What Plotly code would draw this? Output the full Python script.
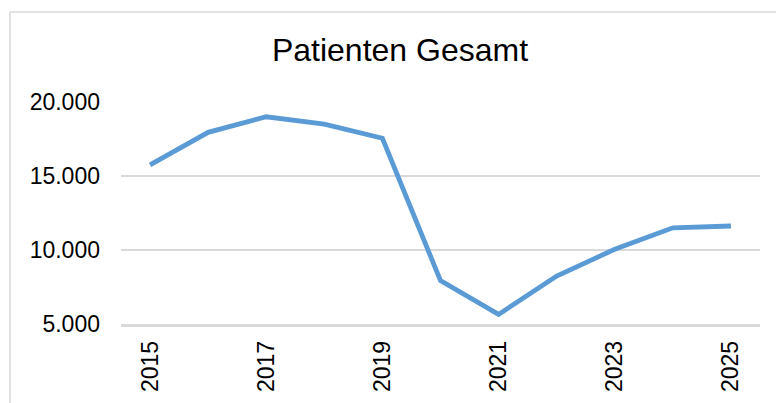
import plotly.graph_objects as go

# Patient totals per year
years = ["2015", "2016", "2017", "2018", "2019", "2020",
         "2021", "2022", "2023", "2024", "2025"]
patients = [15750, 17950, 19000, 18500, 17550, 7930,
            5650, 8240, 10050, 11500, 11620]

y_ticks = [5000, 10000, 15000, 20000]
x_ticks = ["2015", "2017", "2019", "2021", "2023", "2025"]

W, H = 776, 403
ML, MR, MT, MB = 121, 16, 102, 79
pw, ph = W - ML - MR, H - MT - MB


def px_x(px):
    return (px - ML) / pw


def px_y(py):
    return (H - MB - py) / ph


fig = go.Figure()
fig.add_trace(go.Scatter(
    x=years, y=patients, mode="lines",
    line=dict(color="#5B9BD5", width=4.8),
    cliponaxis=False, hoverinfo="x+y",
))

font = "Liberation Sans, Arial, sans-serif"

fig.update_layout(
    width=W, height=H,
    margin=dict(l=ML, r=MR, t=MT, b=MB, autoexpand=False),
    paper_bgcolor="white", plot_bgcolor="white",
    separators=",.",
    showlegend=False,
    font=dict(family=font, color="#000000", size=23),
    title=dict(text="Patienten Gesamt", x=(273 + 527) / 2 / W,
               xanchor="center", y=1 - 50 / H, yanchor="middle",
               font=dict(family=font, size=32, color="#000000")),
    xaxis=dict(type="category", range=[-0.5, len(years) - 0.5],
               tickmode="array", tickvals=x_ticks,
               ticktext=x_ticks, tickangle=-90, showgrid=False,
               showline=True, linecolor="#d9d9d9", linewidth=2.5,
               ticks="", ticklabelstandoff=5, automargin=False,
               tickfont=dict(size=23)),
    yaxis=dict(range=[5000, 20000], tickmode="array", tickvals=y_ticks,
               tickformat=",d", showgrid=True, gridcolor="#d9d9d9",
               gridwidth=1.8, zeroline=False, showline=False, ticks="",
               ticklabelstandoff=20, automargin=False,
               tickfont=dict(size=23)),
    shapes=[dict(type="rect", xref="paper", yref="paper",
                 x0=px_x(10), x1=px_x(790), y0=px_y(420), y1=px_y(12),
                 line=dict(color="#d9d9d9", width=1.5),
                 fillcolor="rgba(0,0,0,0)", layer="below")],
)

fig.write_html("out.html")
